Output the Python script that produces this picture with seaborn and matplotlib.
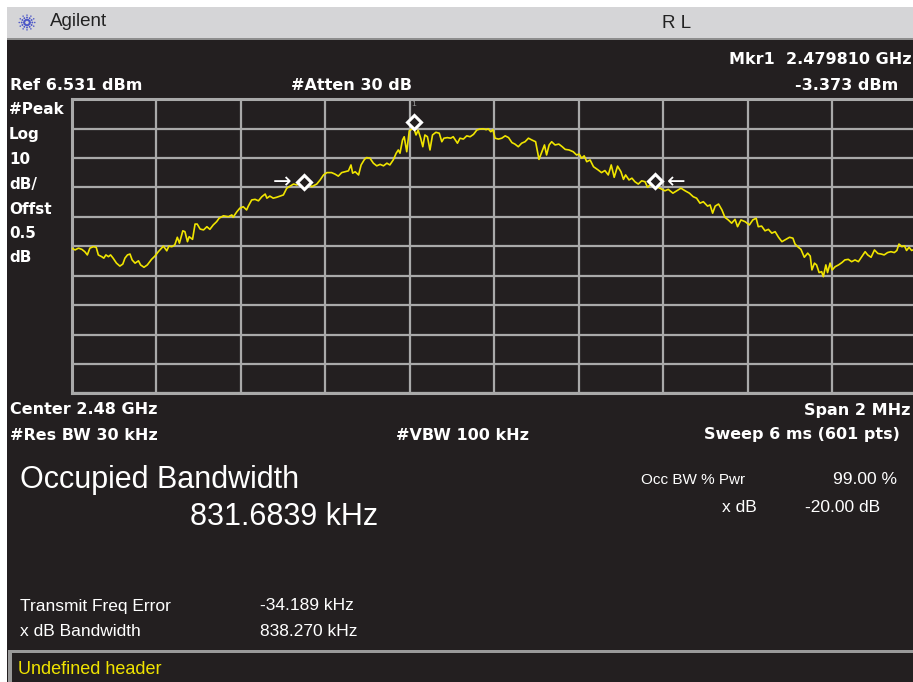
import numpy as np
import pandas as pd
import matplotlib
matplotlib.use("Agg")
import matplotlib.pyplot as plt
import matplotlib.transforms as mtransforms
from matplotlib.patches import Rectangle
import seaborn as sns

# ---------------- data ----------------
# frequency offset from centre 2.48 GHz, in kHz
freq_khz = [-1000, -992, -984, -976, -969, -963, -957, -949, -942, -937, -929, -924, -919, -913,
            -908, -902, -894, -886, -879, -874, -868, -862, -857, -850, -842, -837, -829, -821,
            -811, -803, -795, -783, -775, -770, -763, -756, -750, -745, -737, -732, -726, -722,
            -714, -708, -703, -696, -688, -680, -673, -665, -657, -651, -641, -629, -621, -618,
            -609, -602, -594, -586, -582, -574, -566, -558, -550, -542, -538, -531, -523, -515,
            -507, -499, -491, -483, -475, -467, -458, -451, -440, -432, -420, -412, -404, -396,
            -385, -377, -369, -361, -353, -345, -339, -335, -329, -321, -315, -307, -302, -294,
            -286, -278, -270, -262, -254, -247, -239, -232, -227, -223, -217, -213, -207, -201,
            -195, -190, -185, -180, -174, -169, -164, -158, -152, -146, -138, -130, -124, -119,
            -111, -103, -97, -87, -81, -73, -65, -57, -49, -41, -34, -26, -19, -14, -8, -3,
            2, 10, 18, 26, 34, 42, 49, 57, 65, 73, 81, 89, 98, 106, 113, 119, 124, 130, 136,
            144, 153, 161, 168, 177, 187, 195, 201, 207, 213, 219, 227, 235, 246, 254, 262, 270,
            277, 284, 292, 300, 306, 311, 319, 326, 333, 341, 349, 357, 363, 369, 381, 392, 404,
            412, 423, 432, 442, 452, 462, 471, 479, 487, 495, 505, 511, 517, 523, 531, 539, 546,
            554, 562, 570, 576, 584, 594, 604, 612, 620, 625, 633, 641, 649, 657, 665, 673, 681,
            688, 699, 707, 712, 720, 726, 734, 742, 748, 752, 758, 763, 769, 775, 779, 785, 789,
            795, 800, 807, 815, 823, 830, 838, 846, 854, 862, 870, 878, 884, 892, 900, 908, 916,
            923, 931, 939, 947, 953, 958, 965, 971, 976, 982, 988, 1000]
# trace level, dBm
level_dbm = [-44.1, -44.7, -44.1, -44.5, -45.3, -46.4, -44.1, -43.6, -43.8, -46.4, -47.0, -47.5,
             -46.4, -47.0, -46.4, -47.5, -49.2, -50.2, -49.5, -47.5, -46.4, -46.1, -48.1, -49.2,
             -48.4, -49.8, -50.6, -49.8, -47.9, -46.8, -45.3, -43.4, -45.0, -43.4, -43.6, -43.0,
             -40.4, -42.4, -38.2, -38.5, -41.9, -40.2, -41.1, -35.9, -35.9, -37.6, -37.9, -36.8,
             -37.7, -36.2, -35.1, -33.9, -33.1, -33.4, -32.8, -33.6, -31.7, -30.5, -30.0, -31.1,
             -29.8, -27.7, -27.5, -28.0, -26.6, -25.7, -27.1, -26.4, -27.1, -26.8, -26.4, -26.0,
             -23.7, -23.0, -22.3, -22.6, -22.0, -23.7, -22.0, -23.2, -22.3, -20.9, -19.2, -18.4,
             -18.4, -18.9, -19.6, -18.4, -18.1, -17.8, -15.8, -18.6, -18.1, -19.2, -15.8, -13.9,
             -13.3, -13.5, -15.2, -16.1, -15.6, -16.1, -15.2, -15.8, -14.1, -11.8, -10.7, -11.8,
             -7.3, -6.2, -11.3, -4.2, -3.6, -3.373, -5.6, -4.0, -6.7, -9.6, -5.6, -6.2, -10.7,
             -5.6, -4.7, -5.0, -7.9, -6.7, -6.5, -6.7, -6.2, -8.4, -6.7, -7.0, -5.9, -6.2, -5.4,
             -3.9, -3.6, -3.5, -3.8, -3.5, -4.5, -3.8, -6.7, -7.0, -6.7, -5.9, -6.5, -8.2, -8.7,
             -9.6, -8.4, -7.9, -6.7, -7.3, -7.9, -13.9, -11.3, -9.0, -12.4, -9.0, -7.9, -9.0,
             -8.7, -9.6, -10.5, -10.7, -11.3, -12.4, -12.1, -13.5, -12.7, -14.7, -14.1, -16.4,
             -17.5, -18.4, -17.7, -19.2, -15.8, -20.0, -16.2, -18.1, -20.7, -19.2, -20.9, -20.3,
             -21.5, -22.3, -21.2, -21.5, -23.4, -22.6, -23.0, -23.7, -24.6, -24.1, -25.4, -24.6,
             -23.7, -24.6, -25.4, -26.6, -27.1, -28.8, -28.3, -29.8, -29.4, -32.2, -29.8, -29.1,
             -31.1, -33.6, -34.5, -35.6, -34.3, -36.8, -34.5, -35.1, -36.2, -34.5, -33.9, -36.8,
             -36.6, -38.2, -37.7, -39.0, -38.5, -40.4, -41.9, -41.3, -40.4, -40.7, -42.7, -43.8,
             -44.5, -47.2, -45.8, -46.8, -51.5, -49.2, -49.8, -52.4, -52.1, -53.8, -49.8, -52.4,
             -49.2, -51.5, -50.4, -49.8, -49.0, -48.1, -47.9, -48.7, -48.1, -48.7, -47.0, -45.3,
             -46.4, -47.2, -44.7, -45.9, -46.1, -46.4, -45.6, -45.3, -45.6, -44.9, -42.7, -43.6,
             -43.3, -44.9, -43.8, -44.9, -44.1]

# markers
mkr1_freq = [-190]
mkr1_level = [-3.373]
obw_freq = [-450.0, 381.7]
obw_level = [-21.5, -21.2]

ref_level = 6.531
db_per_div = 10
span_khz = 2000

# ---------------- style ----------------
sns.set_theme(style="dark")
plt.rcParams["font.family"] = ["Liberation Sans", "DejaVu Sans"]

BG = "#231f20"
GRID = "#a9a9a9"
YEL = "#f0e400"
W, H = 913, 682

fig = plt.figure(figsize=(W / 100, H / 100), dpi=100, facecolor="white")


def fx(x):
    return x / W


def fy(y):
    return 1 - y / H


def rect(x0, y0, x1, y1, color, z=-10):
    fig.patches.append(Rectangle((fx(x0), fy(y1)), (x1 - x0) / W, (y1 - y0) / H,
                                 transform=fig.transFigure, facecolor=color,
                                 edgecolor="none", zorder=z))


def txt(x, y, s, ha="left", size=11, weight="bold", color="white", family=None, **kw):
    kwargs = dict(ha=ha, va="center", fontsize=size, fontweight=weight, color=color)
    if family is not None:
        kwargs["family"] = family
    kwargs.update(kw)
    fig.text(fx(x), fy(y), s, **kwargs)


# backgrounds
rect(7, 7, W, 38, "#d5d5d7")
rect(7, 38, W, 40, "#8e8e8e")
rect(7, 40, W, H, BG)

# header
txt(50, 22, "Agilent", size=13.5, weight="normal", color="#222222")
txt(677, 24, "R L", ha="center", size=13.5, weight="normal", color="#222222")
logo = fig.add_axes([fx(18), fy(31), 18 / W, 17 / H])
logo.set_xlim(-1.1, 1.1)
logo.set_ylim(-1.1, 1.1)
logo.axis("off")
for ang in np.arange(0, 360, 30):
    r = np.array([0.35, 0.65, 0.95])
    logo.scatter(r * np.cos(np.radians(ang)), r * np.sin(np.radians(ang)),
                 s=[2.5, 1.8, 1.2], color="#4a55c8", linewidths=0)

# status text (bold, wide)
BOLD = ["DejaVu Sans"]
BS = 11.5
txt(912, 60, "Mkr1  2.479810 GHz", ha="right", size=BS, family=BOLD)
txt(898, 85, "-3.373 dBm", ha="right", size=BS, family=BOLD)
txt(10, 85, "Ref 6.531 dBm", size=BS, family=BOLD)
txt(291, 85, "#Atten 30 dB", size=BS, family=BOLD)
for lab, yy in zip(["#Peak", "Log", "10", "dB/", "Offst", "0.5", "dB"],
                   [109, 135, 159, 185, 210, 234, 257]):
    txt(9, yy, lab, size=11, family=BOLD)
txt(10, 410, "Center 2.48 GHz", size=BS, family=BOLD)
txt(910, 410, "Span 2 MHz", ha="right", size=BS, family=BOLD)
txt(10, 435, "#Res BW 30 kHz", size=BS, family=BOLD)
txt(396, 435, "#VBW 100 kHz", size=BS, family=BOLD)
txt(900, 435, "Sweep 6 ms (601 pts)", ha="right", size=BS, family=BOLD)

NARROW = ["Liberation Sans Narrow", "Liberation Sans", "DejaVu Sans"]
txt(20, 480, "Occupied Bandwidth", size=22, weight="normal", family=NARROW)
txt(190, 517, "831.6839 kHz", size=22, weight="normal", family=NARROW)
txt(641, 480, "Occ BW % Pwr", size=11, weight="normal", family=NARROW)
txt(897, 480, "99.00 %", ha="right", size=12.5, weight="normal", family=NARROW)
txt(757, 508, "x dB", ha="right", size=12.5, weight="normal", family=NARROW)
txt(805, 508, "-20.00 dB", size=12.5, weight="normal", family=NARROW)
txt(20, 606, "Transmit Freq Error", size=12.5, weight="normal", family=NARROW)
txt(260, 606, "-34.189 kHz", size=12.5, weight="normal", family=NARROW)
txt(20, 631, "x dB Bandwidth", size=12.5, weight="normal", family=NARROW)
txt(260, 631, "838.270 kHz", size=12.5, weight="normal", family=NARROW)

# bottom message box
rect(8, 650, W, 653, "#9a9a9a", z=-5)
rect(8, 650, 12, H, "#9a9a9a", z=-5)
txt(18, 670, "Undefined header", size=13, weight="normal", color=YEL, family=NARROW)

# ---------------- trace axes ----------------
x0, x1, y0, y1 = 71.7, 916.7, 99.3, 393.3
ax = fig.add_axes([fx(x0), fy(y1), (x1 - x0) / W, (y1 - y0) / H])
ax.set_facecolor(BG)
df = pd.DataFrame({"freq": freq_khz, "level": level_dbm})
sns.lineplot(data=df, x="freq", y="level", ax=ax, color=YEL, lw=1.2,
             estimator=None, sort=False, zorder=3)
ax.set_xlim(-span_khz / 2, span_khz / 2)
ax.set_ylim(ref_level - 10 * db_per_div, ref_level)
ax.set_xticks(np.linspace(-span_khz / 2, span_khz / 2, 11))
ax.set_yticks(np.linspace(ref_level - 10 * db_per_div, ref_level, 11))
ax.tick_params(length=0, labelleft=False, labelbottom=False)
ax.grid(True, color=GRID, lw=1.6)
ax.set_xlabel("")
ax.set_ylabel("")
for sp in ax.spines.values():
    sp.set_visible(True)
    sp.set_color(GRID)
    sp.set_linewidth(2.2)

# marker 1 (drawn just above the peak point)
up = mtransforms.offset_copy(ax.transData, fig=fig, x=0, y=6, units="dots")
ax.plot(mkr1_freq, mkr1_level, ls="none", marker="D", ms=7, mew=2.2,
        mfc=BG, mec="white", transform=up, zorder=5, clip_on=False)
# occupied-bandwidth edge markers
ax.plot(obw_freq, obw_level, ls="none", marker="D", ms=7, mew=2.2,
        mfc=BG, mec="white", zorder=5)
ax.text(mkr1_freq[0], ref_level, "1", transform=mtransforms.offset_copy(
    ax.transData, fig=fig, x=0, y=-5, units="dots"), ha="center", va="center",
    fontsize=6, color="#9a9a9a", zorder=6)
ax.annotate("→", (obw_freq[0], obw_level[0]), xytext=(-22, 0), textcoords="offset pixels",
            ha="center", va="center", fontsize=16, color="white", family="DejaVu Sans")
ax.annotate("←", (obw_freq[1], obw_level[1]), xytext=(21, -1), textcoords="offset pixels",
            ha="center", va="center", fontsize=16, color="white", family="DejaVu Sans")

fig.savefig("out.png", dpi=100, facecolor="white")
